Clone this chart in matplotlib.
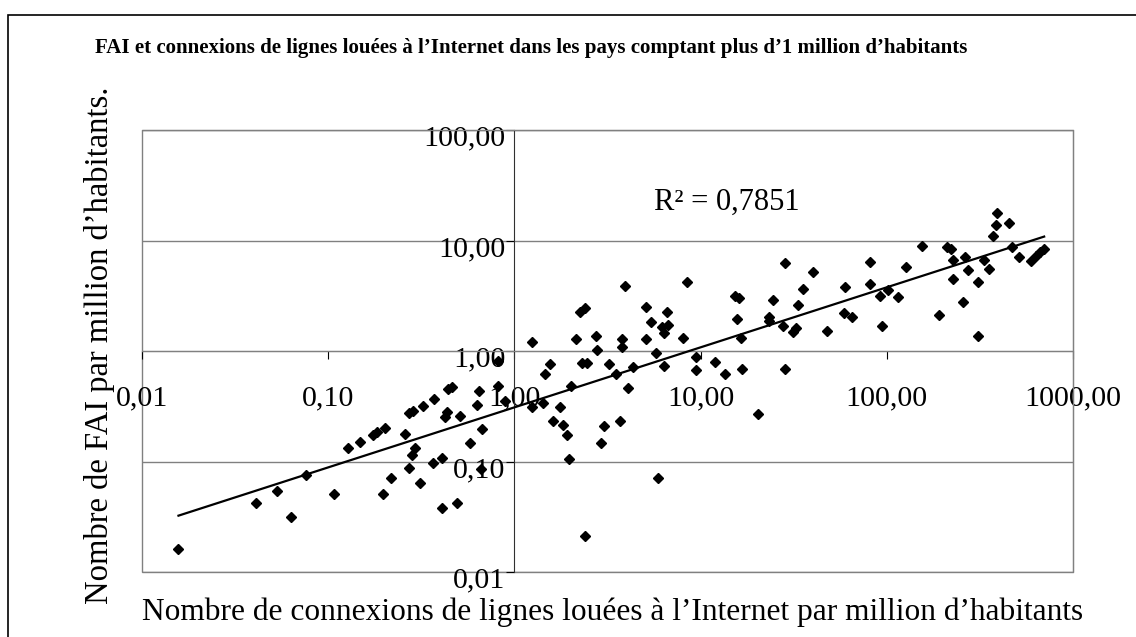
import numpy as np
import matplotlib.pyplot as plt
from matplotlib.patches import Rectangle
from matplotlib.ticker import FixedLocator, NullLocator, FuncFormatter
import matplotlib.transforms as mtransforms

plt.rcParams['font.family'] = ['Liberation Serif', 'DejaVu Serif']

# leased-line connections per million inhabitants (x) / ISPs per million inhabitants (y)
lignes_louees = [
    0.0157, 0.0408, 0.0529, 0.0634, 0.0757, 0.107, 0.128, 0.148, 0.173, 0.182,
    0.202, 0.198, 0.217, 0.259, 0.273, 0.286, 0.324, 0.370, 0.442, 0.461,
    0.433, 0.424, 0.511, 0.292, 0.281, 0.273, 0.311, 0.367, 0.407, 0.410,
    0.490, 0.578, 0.668, 0.628, 0.648, 0.820, 0.820, 0.891, 0.662,
    1.24, 1.24, 1.43, 1.46, 1.55, 1.62, 1.76, 1.83, 1.91, 1.96,
    2.01, 2.14, 2.25, 2.39, 2.30, 2.45, 2.39, 2.73, 2.79, 2.91,
    3.03, 3.24, 3.52, 3.69, 3.77, 3.77, 3.93, 4.09, 4.35, 5.07,
    5.07, 5.42, 5.76, 5.93, 6.18, 6.36, 6.58, 6.71, 6.38, 8.08,
    8.49, 9.45, 9.45, 11.96, 13.6, 15.3, 16.1, 15.7, 16.4, 16.6,
    20.4, 23.2, 23.3, 24.4, 27.7, 28.4, 28.4, 31.5, 32.4, 33.4,
    35.6, 39.9, 47.6, 59.7, 58.6, 65.1, 80.8, 80.8, 92.0, 94.0,
    102, 115, 127, 154, 191, 211, 221, 227, 227, 257,
    264, 273, 307, 307, 333, 356, 372, 384, 390, 455,
    471, 515, 596, 630, 665, 700,
]
fai = [
    0.0160, 0.0419, 0.0544, 0.0317, 0.0755, 0.0508, 0.1315, 0.151, 0.174, 0.186,
    0.200, 0.0508, 0.0705, 0.176, 0.277, 0.288, 0.320, 0.370, 0.450, 0.469,
    0.282, 0.251, 0.258, 0.1315, 0.1145, 0.0879, 0.0635, 0.0975, 0.107, 0.0377,
    0.0424, 0.146, 0.196, 0.325, 0.435, 0.817, 0.482, 0.355, 0.0855,
    1.21, 0.313, 0.336, 0.615, 0.762, 0.234, 0.313, 0.214, 0.174, 0.105,
    0.485, 1.28, 2.27, 2.43, 0.774, 0.774, 0.0213, 1.37, 1.02, 0.146,
    0.211, 0.762, 0.615, 0.232, 1.28, 1.09, 3.87, 0.459, 0.721, 2.52,
    1.28, 1.84, 0.953, 0.0705, 1.66, 1.45, 2.27, 1.72, 0.736, 1.32,
    4.24, 0.888, 0.673, 0.800, 0.615, 3.15, 3.00, 1.95, 1.30, 0.683,
    0.269, 2.05, 1.87, 2.89, 1.68, 6.22, 0.688, 1.50, 1.60, 2.61,
    3.62, 5.15, 1.52, 3.77, 2.21, 2.03, 6.43, 4.01, 3.15, 1.68,
    3.56, 3.10, 5.72, 8.91, 2.12, 8.73, 8.38, 6.66, 4.48, 2.79,
    7.02, 5.41, 4.24, 1.37, 6.66, 5.55, 11.0, 13.8, 17.6, 14.3,
    8.73, 7.13, 6.59, 7.24, 7.87, 8.29,
]

x_ticks = [0.01, 0.1, 1, 10, 100, 1000]
y_ticks = [0.01, 0.1, 1, 10, 100]

title = "FAI et connexions de lignes louées à l’Internet dans les pays comptant plus d’1 million d’habitants"
xlabel = "Nombre de connexions de lignes louées à l’Internet par million d’habitants"
ylabel = "Nombre de FAI par million d’habitants."
r2_text = "R² = 0,7851"

W, H = 1136, 637
fig = plt.figure(figsize=(W / 100, H / 100), dpi=100)
ax = fig.add_axes([142 / W, 1 - 572 / H, 931 / W, 442 / H])
ax.set_xscale('log')
ax.set_yscale('log')
ax.set_xlim(0.01, 1000)
ax.set_ylim(0.01, 100)

# axes cross at (1, 1) like the original Excel chart
ax.spines['left'].set_position(('data', 1))
ax.spines['bottom'].set_position(('data', 1))
ax.spines['left'].set_color('#303030')
ax.spines['bottom'].set_color('#808080')
for s in ['top', 'right']:
    ax.spines[s].set_color('#808080')
ax.add_patch(Rectangle((0, 0), 1, 1, transform=ax.transAxes, fill=False,
                       ec='#808080', lw=1, clip_on=False, zorder=0))

ax.yaxis.grid(True, color='#808080', lw=1)
ax.set_axisbelow(True)

fmt = FuncFormatter(lambda v, p: f"{v:.2f}".replace('.', ','))
ax.xaxis.set_major_locator(FixedLocator(x_ticks))
ax.yaxis.set_major_locator(FixedLocator(y_ticks))
ax.xaxis.set_minor_locator(NullLocator())
ax.yaxis.set_minor_locator(NullLocator())
ax.xaxis.set_major_formatter(fmt)
ax.yaxis.set_major_formatter(fmt)
ax.tick_params(axis='both', direction='out', length=6, width=0.8, color='black',
               labelsize=21.6)
ax.tick_params(axis='x', pad=19)
ax.tick_params(axis='y', pad=0.5)

offset = mtransforms.ScaledTranslation(0, -4 / 72, fig.dpi_scale_trans)
for lab in ax.get_yticklabels():
    lab.set_transform(lab.get_transform() + offset)

# data points
ax.plot(lignes_louees, fai, 'D', color='black', ms=5, zorder=3)

# power trend line (least squares in log-log)
lx = np.log10(lignes_louees)
ly = np.log10(fai)
b, a = np.polyfit(lx, ly, 1)
xs = np.array([min(lignes_louees), max(lignes_louees)])
ax.plot(xs, 10 ** a * xs ** b, color='black', lw=1.6, zorder=4)

ax.text((654 - 142) / 931, (572 - 210) / 442, r2_text, transform=ax.transAxes,
        fontsize=22, ha='left', va='baseline')

fig.text(95 / W, 1 - 53 / H, title, fontsize=15, fontweight='bold',
         ha='left', va='baseline')
fig.text(613 / W, 1 - 612 / H, xlabel, fontsize=22.6, ha='center', va='center')
fig.text(100 / W, 1 - 345 / H, ylabel, fontsize=23.5, rotation=90,
         ha='center', va='center')

# outer chart frame (cut by the image edges on right and bottom)
fig.add_artist(Rectangle((8 / W, -0.5), 2, 0.5 + (1 - 15 / H),
                         transform=fig.transFigure, fill=False, ec='black', lw=1.2))

fig.savefig('out.png', dpi=100)
plt.close(fig)
